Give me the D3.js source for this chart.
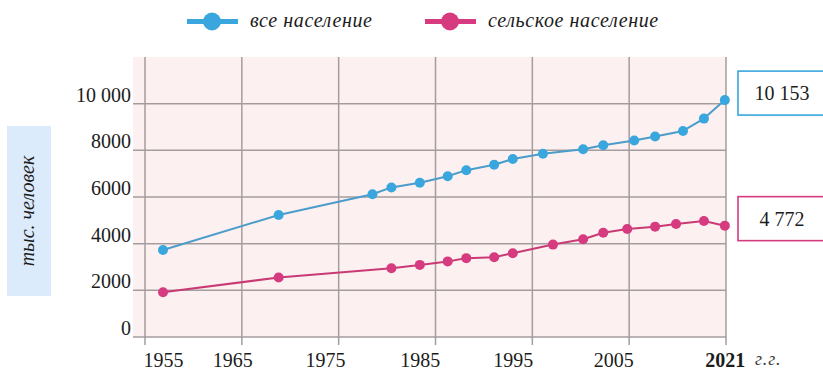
<!DOCTYPE html>
<html lang="ru">
<head>
<meta charset="utf-8">
<title>Население</title>
<script src="https://cdn.jsdelivr.net/npm/d3@7/dist/d3.min.js"></script>
<style>
  html, body { margin: 0; padding: 0; background: #ffffff; }
  svg { display: block; }
</style>
</head>
<body>
<svg id="chart" width="823" height="370"></svg>
<script>
// Series: total population and rural population, thousands of people
const totalYears   = [1955, 1970, 1980, 1982, 1985, 1988, 1990, 1993, 1995, 1998, 2002, 2004, 2008, 2011, 2015, 2018, 2021];
const totalValues  = [3730, 5230, 6120, 6410, 6610, 6890, 7150, 7380, 7630, 7850, 8050, 8220, 8420, 8590, 8830, 9360, 10153];
const ruralYears   = [1955, 1970, 1982, 1985, 1988, 1990, 1993, 1995, 1999, 2002, 2004, 2007, 2011, 2014, 2018, 2021];
const ruralValues  = [1920, 2550, 2950, 3090, 3240, 3380, 3420, 3590, 3960, 4190, 4470, 4630, 4730, 4840, 4970, 4772];

// Axis ticks
const xTickYears  = [1955, 1965, 1975, 1985, 1995, 2005, 2021];
const yTicks      = [0, 2000, 4000, 6000, 8000, 10000];
const yTickLabels = ["0", "2000", "4000", "6000", "8000", "10 000"];

const seriesNames = ["все население", "сельское население"];
const unitLabel   = "тыс. человек";
const yearUnit    = "г.г.";

const SERIF = "'Liberation Serif', 'Times New Roman', 'DejaVu Serif', serif";
const INK = "#1c1c1c";
const BLUE = "#39a6de", BLUE_LINE = "#4b9ccb";
const PINK = "#d63b80", PINK_LINE = "#c93a75";

const svg = d3.select("#chart");

function label(sel, size, italic) {
  return sel.style("font-family", SERIF)
    .style("font-size", size + "px")
    .style("font-style", italic ? "italic" : "normal")
    .attr("fill", INK);
}

// Plot frame
const plot = { left: 133, axisX: 145, right: 726, top: 57, bottom: 337 };
const span = plot.right - plot.axisX;

// The printed time axis is not uniform; each decade stop has its own place
const xStops = [0.031, 0.150, 0.310, 0.473, 0.633, 0.806, 0.998];
const x = d3.scaleLinear()
  .domain(xTickYears)
  .range(xStops.map(f => plot.axisX + f * span));

const y = d3.scaleLinear().domain([0, 12000]).range([plot.bottom, plot.top]);

// Background panel
svg.append("rect")
  .attr("x", plot.left).attr("y", plot.top)
  .attr("width", plot.right - plot.left).attr("height", plot.bottom - plot.top)
  .attr("fill", "#fcf1f0");

// Grid
const grid = svg.append("g").attr("stroke", "#a59d9d").attr("stroke-width", 1.5);
grid.selectAll("line.h").data(yTicks).join("line")
  .attr("class", "h")
  .attr("x1", plot.left).attr("x2", plot.right)
  .attr("y1", d => y(d)).attr("y2", d => y(d));
grid.selectAll("line.v").data(d3.range(7)).join("line")
  .attr("class", "v")
  .attr("x1", i => plot.axisX + i * span / 6).attr("x2", i => plot.axisX + i * span / 6)
  .attr("y1", plot.top).attr("y2", plot.bottom + 8);

// Y axis labels
const yAxis = d3.axisLeft(y).tickValues(yTicks).tickSize(0)
  .tickFormat((d, i) => yTickLabels[i]);
const gy = svg.append("g").attr("transform", `translate(${plot.left - 2},0)`).call(yAxis);
gy.select(".domain").remove();
label(gy.selectAll("text").attr("x", 0).attr("dy", "-0.12em"), 20, false);

// X axis labels
const xAxis = d3.axisBottom(x).tickValues(xTickYears).tickSize(0).tickFormat(d3.format("d"));
const gx = svg.append("g").attr("transform", "translate(0,367)").call(xAxis);
gx.select(".domain").remove();
label(gx.selectAll("text").attr("y", 0).attr("dy", null), 20, false)
  .style("font-weight", d => d === 2021 ? "bold" : "normal");

label(svg.append("text").attr("x", 755).attr("y", 365), 18, true)
  .attr("fill", "#444")
  .style("letter-spacing", "1px")
  .text(yearUnit);

// Lines and points
const line = d3.line();

function drawSeries(years, values, lineColor, dotColor) {
  const pts = years.map((yr, i) => [x(yr), y(values[i])]);
  svg.append("path")
    .attr("d", line(pts))
    .attr("fill", "none").attr("stroke", lineColor).attr("stroke-width", 2)
    .attr("stroke-linejoin", "round");
  svg.append("g").selectAll("circle").data(pts).join("circle")
    .attr("cx", d => d[0]).attr("cy", d => d[1]).attr("r", 5)
    .attr("fill", dotColor);
}
drawSeries(totalYears, totalValues, BLUE_LINE, BLUE);
drawSeries(ruralYears, ruralValues, PINK_LINE, PINK);

// Last-value boxes
const fmt = v => d3.format(",")(v).replace(/,/g, " ");
function valueBox(value, color) {
  const cy = y(value) - 7;
  svg.append("rect")
    .attr("x", 738).attr("y", cy - 22).attr("width", 100).attr("height", 44)
    .attr("fill", "#fff").attr("stroke", color).attr("stroke-width", 1.6);
  label(svg.append("text").attr("x", 782).attr("y", cy + 7), 20, false)
    .attr("text-anchor", "middle")
    .text(fmt(value));
}
valueBox(totalValues[totalValues.length - 1], BLUE);
valueBox(ruralValues[ruralValues.length - 1], PINK);

// Unit label on the left
svg.append("rect")
  .attr("x", 7).attr("y", 126).attr("width", 44).attr("height", 170)
  .attr("fill", "#dcebfb");
label(svg.append("text").attr("transform", "translate(34,211) rotate(-90)"), 20, true)
  .attr("text-anchor", "middle")
  .text(unitLabel);

// Legend
const legend = svg.append("g");
[[seriesNames[0], BLUE, 187], [seriesNames[1], PINK, 425]].forEach(([name, color, lx]) => {
  legend.append("line")
    .attr("x1", lx).attr("x2", lx + 51).attr("y1", 21.5).attr("y2", 21.5)
    .attr("stroke", color).attr("stroke-width", 5);
  legend.append("circle")
    .attr("cx", lx + 25).attr("cy", 21.5).attr("r", 9).attr("fill", color);
  label(legend.append("text").attr("x", lx + 63).attr("y", 27), 20, true)
    .style("letter-spacing", "0.6px")
    .text(name);
});
</script>
</body>
</html>
